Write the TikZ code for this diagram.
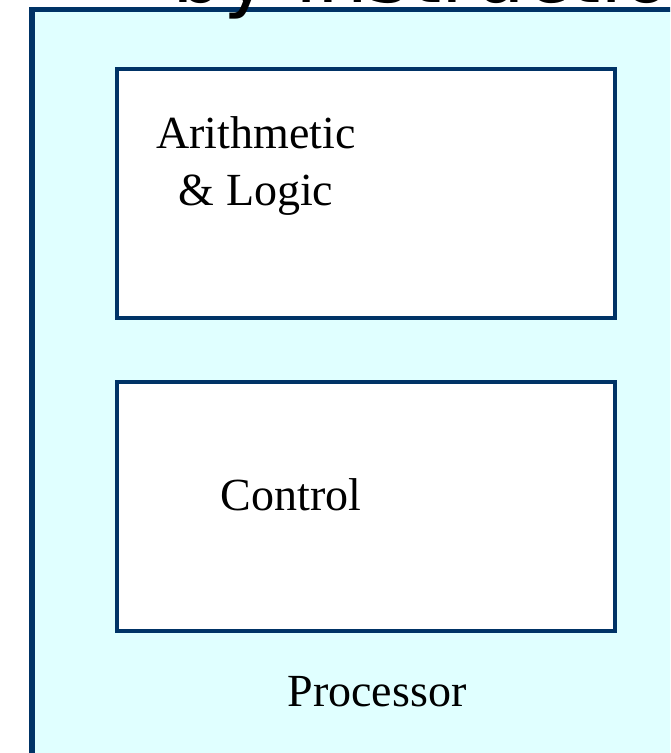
\documentclass[tikz,border=0pt]{standalone}
\usepackage{fontspec}
\setmainfont{Liberation Serif}
\newfontfamily\handfont{DejaVu Sans}
\definecolor{navy}{RGB}{0,51,102}
\definecolor{paleaqua}{RGB}{224,255,255}
\tikzset{
  frame/.style={draw=navy, line width=5.5pt, fill=paleaqua},
  unitbox/.style={draw=navy, line width=4.5pt, fill=white, minimum width=498pt, minimum height=249pt, inner sep=0pt},
  label/.style={font=\fontsize{46}{57}\selectfont, inner sep=0pt, align=center},
  headline/.style={font=\handfont\fontsize{80}{80}\selectfont, inner sep=0pt, anchor=base west}
}
\begin{document}
\begin{tikzpicture}[x=1pt,y=-1pt]
\useasboundingbox (0,0) rectangle (670,753);
\begin{scope}
  \clip (0,0) rectangle (670,753);
  % processor frame, running off the right and bottom edges
  \draw[frame] (32,9.5) rectangle (720,800);
  % functional units
  \node[unitbox] (alu) at (366,193.5) {};
  \node[unitbox] (ctl) at (366,506.5) {};
  \node[label, anchor=base] (alutext) at (256,205) {Arithmetic\\\& Logic};
  \node[label, anchor=base] (ctltext) at (291,510) {Control};
  \node[label, anchor=base] (proc) at (377,706) {Processor};
  % heading above the frame, cut off by the top edge
  \node[headline] (head) at (172,2) {by instruction};
\end{scope}
\end{tikzpicture}
\end{document}
